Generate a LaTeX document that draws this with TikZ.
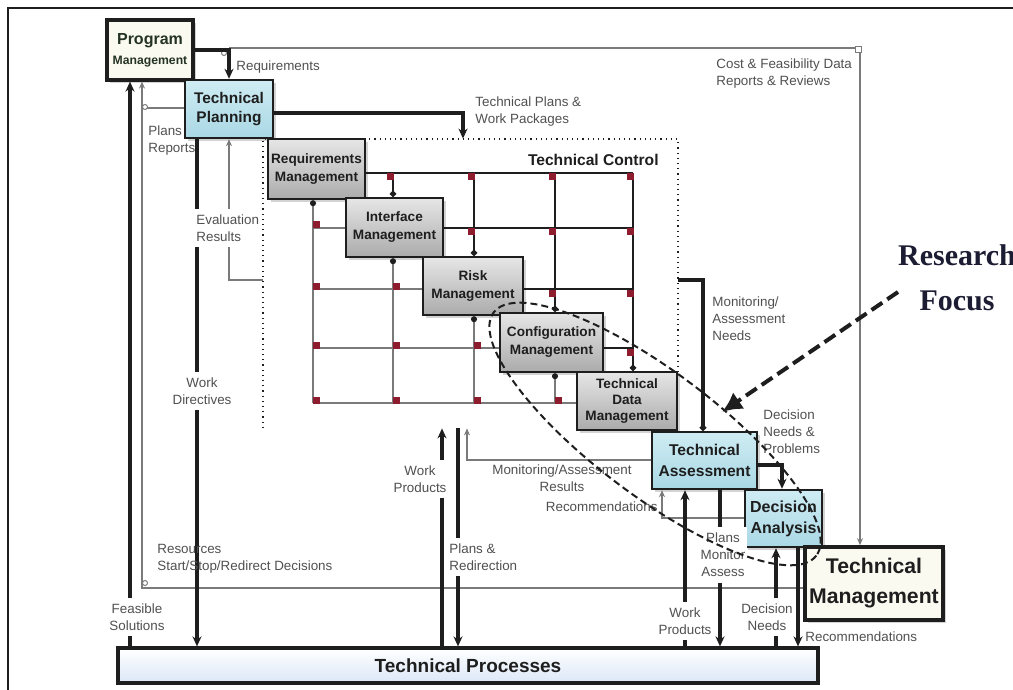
\documentclass[tikz,border=0pt]{standalone}
\usepackage{fontspec}
\setmainfont{Liberation Sans}
\newfontfamily\rfont{Liberation Serif}
\usetikzlibrary{arrows.meta,shadows,calc}

\definecolor{ink}{HTML}{1E1E1E}
\definecolor{lblgray}{HTML}{505050}
\definecolor{thingray}{HTML}{7A7A7A}
\definecolor{gridred}{HTML}{8C1C2E}
\definecolor{pmfill}{HTML}{FAFAF0}
\definecolor{pmtext}{HTML}{243324}
\definecolor{bluetop}{HTML}{CFECF3}
\definecolor{bluebot}{HTML}{A9D8E5}
\definecolor{greytop}{HTML}{E6E6E6}
\definecolor{greybot}{HTML}{ABABAB}
\definecolor{procbot}{HTML}{DCE7F7}
\definecolor{navy}{HTML}{1C1C33}

\begin{document}
\begin{tikzpicture}[x=0.5pt,y=-0.5pt,
  thk/.style={draw=ink,line width=1.6pt},
  thkarrow/.style={thk,-{Stealth[length=5pt,width=4.5pt]}},
  thn/.style={draw=thingray,line width=0.6pt},
  thnarrow/.style={thn,-{Stealth[length=3.5pt,width=3pt]}},
  gridthk/.style={draw=ink,line width=1.2pt},
  gridthn/.style={draw=thingray,line width=0.6pt},
  dotend/.style={-{Circle[length=3pt,color=ink]}},
  dotstart/.style={{Circle[length=3pt,color=ink]}-},
  lbl/.style={font=\fontsize{6.7}{8.5}\selectfont,text=lblgray,inner sep=1pt,align=left},
  gaplbl/.style={lbl,fill=white,align=center,inner xsep=1pt,inner ysep=3pt},
  shade/.style={drop shadow={opacity=0.35,shadow xshift=1.5pt,shadow yshift=-1.5pt}},
  gbox/.style={draw=ink,line width=1.2pt,top color=greytop,bottom color=greybot,shade,
     font=\bfseries\fontsize{6.8}{9}\selectfont,text=ink,align=center,inner sep=0pt},
  bbox/.style={gbox,top color=bluetop,bottom color=bluebot},
  junction/.style={draw=thingray,line width=0.5pt,fill=white}
]
\useasboundingbox (0,0) rectangle (1013,690);

% outer frame (left and top edges)
\draw[ink,line width=0.8pt] (8,700) -- (8,8) -- (1020,8);

% column and row positions of the control grid
\coordinate (c1) at (313,0);
\coordinate (c2) at (393,0);
\coordinate (c3) at (474,0);
\coordinate (c4) at (555,0);
\coordinate (c5) at (633,0);
\coordinate (r1) at (0,173);
\coordinate (r2) at (0,228);
\coordinate (r3) at (0,289);
\coordinate (r4) at (0,348);
\coordinate (r5) at (0,403);

% x positions of vertical connectors
\foreach \n in {130,142,197,229,442,458,463,467,662,685,703,720,776,782,798,860}
  \coordinate (x\n) at (\n,0);
% y positions of horizontal connectors
\coordinate (ycf) at (0,48);
\coordinate (ypr) at (0,108);
\coordinate (ytpw) at (0,113);
\coordinate (yev) at (0,280);
\coordinate (ymn) at (0,280);
\coordinate (ymar) at (0,460);
\coordinate (ydn) at (0,465);
\coordinate (yrec) at (0,518);
\coordinate (yres) at (0,588);

% technical control region
\node[minimum width=207.5pt,minimum height=144.5pt,inner sep=0pt] (tc) at (470.5,283.5) {};
\draw[ink,line width=0.6pt,dotted] (263,428) -- (263,139) -- (678,139) -- (678,372);
\node[font=\bfseries\fontsize{7.8}{9}\selectfont,text=ink,anchor=east,inner sep=0pt] (tctitle) at (659,160) {Technical Control};

% boxes
\node[draw=ink,line width=1.6pt,fill=pmfill,shade,minimum width=43pt,minimum height=30pt,
      align=center,inner sep=0pt,text=pmtext,font=\bfseries\fontsize{6.1}{10}\selectfont] (pm) at (150,50)
      {{\fontsize{8}{10}\selectfont Program}\\Management};
\node[bbox,minimum width=44pt,minimum height=29pt,font=\bfseries\fontsize{7.7}{9.5}\selectfont] (tp) at (229,109) {Technical\\Planning};
\node[gbox,minimum width=48.5pt,minimum height=30pt] (rm) at (316.5,169) {Requirements\\Management};
\node[gbox,minimum width=48.5pt,minimum height=29.5pt] (im) at (394.5,227.5) {Interface\\Management};
\node[gbox,minimum width=50pt,minimum height=29pt] (rk) at (473,286) {Risk\\Management};
\node[gbox,minimum width=51.5pt,minimum height=29.5pt] (cm) at (551.5,342.5) {Configuration\\Management};
\node[gbox,minimum width=50pt,minimum height=29pt,font=\bfseries\fontsize{6.8}{7.8}\selectfont] (tdm) at (627,401) {Technical\\Data\\Management};
\node[bbox,minimum width=52.5pt,minimum height=28.5pt,font=\bfseries\fontsize{7.8}{10.5}\selectfont] (ta) at (704.5,460.5) {Technical\\Assessment};
\node[bbox,minimum width=38.5pt,minimum height=28.5pt,font=\bfseries\fontsize{8}{10.5}\selectfont] (da) at (783.5,518.5) {Decision\\Analysis};
\node[draw=ink,line width=1.8pt,fill=pmfill,shade,minimum width=69pt,minimum height=36.5pt,
      align=center,inner sep=0pt,text=ink,font=\bfseries\fontsize{10.6}{15}\selectfont] (tm) at (874,583.5) {Technical\\Management};
\node[draw=ink,line width=1.6pt,top color=white,bottom color=procbot,minimum width=350pt,minimum height=17.5pt,
      inner sep=0pt,text=ink,font=\bfseries\fontsize{9.5}{11}\selectfont] (tpr) at (468,665.5) {Technical Processes};

% control grid: upper part
\draw[gridthk] (rm.east |- r1) -- (c5 |- r1);
\draw[gridthk] (im.east |- r2) -- (c5 |- r2);
\draw[gridthk] (rk.east |- r3) -- (c5 |- r3);
\draw[gridthk] (cm.east |- r4) -- (c5 |- r4);
\draw[gridthk,dotend] (c2 |- r1) -- (c2 |- im.north);
\draw[gridthk,dotend] (c3 |- r1) -- (c3 |- rk.north);
\draw[gridthk,dotend] (c4 |- r1) -- (c4 |- cm.north);
\draw[gridthk,dotend] (c5 |- r1) -- (c5 |- tdm.north);
% control grid: lower part
\draw[gridthn,dotstart] (c1 |- rm.south) -- (c1 |- r5);
\draw[gridthn,dotstart] (c2 |- im.south) -- (c2 |- r5);
\draw[gridthn,dotstart] (c3 |- rk.south) -- (c3 |- r5);
\draw[gridthn,dotstart] (c4 |- cm.south) -- (c4 |- r5);
\draw[gridthn] (c1 |- r2) -- (im.west |- r2);
\draw[gridthn] (c1 |- r3) -- (rk.west |- r3);
\draw[gridthn] (c1 |- r4) -- (cm.west |- r4);
\draw[gridthn] (c1 |- r5) -- (tdm.west |- r5);
% intersection markers
\foreach \cx [count=\ci] in {313,393,474,555,633}{
  \foreach \ry [count=\rj] in {173,228,289,348,403}{
    \ifnum\ci>\rj \fill[gridred] (\cx-3,\ry+4) +(-3.5,-3.5) rectangle +(3.5,3.5); \fi
    \ifnum\ci<\rj \fill[gridred] (\cx+3,\ry-3) +(-3.5,-3.5) rectangle +(3.5,3.5); \fi
  }
}

% thin information flows
\coordinate (cf0) at (x229 |- ycf);
\draw[thnarrow] (cf0) -| (x860 |- tm.north);
\draw[thnarrow] (tm.west |- yres) -| (x142 |- pm.south);
\draw[thn] (tp.west |- ypr) -- (x142 |- ypr);
\draw[thnarrow] (tc.west |- yev) -| (x229 |- tp.south);
\draw[thnarrow] (ta.west |- ymar) -| (x467 |- tc.south);
\draw[thnarrow] (da.west |- yrec) -| (x662 |- ta.south);
\draw[junction] (224,53) circle [radius=2.5];
\draw[junction] (145,107) circle [radius=2.5];
\draw[junction] (145,583) circle [radius=2.5];
\draw[junction] (855,47) rectangle (861,53);

% thick flows
\draw[thkarrow] (pm.east) -| (tp.north);
\draw[thkarrow] (x130 |- tpr.north) -- (x130 |- pm.south);
\draw[thkarrow] (x197 |- tp.south) -- (x197 |- tpr.north);
\draw[thkarrow] (tp.east |- ytpw) -| (x463 |- tc.north);
\draw[thk,dotend] (tc.east |- ymn) -| (x703 |- ta.north);
\draw[thkarrow] (ta.east |- ydn) -| (x782 |- da.north);
\draw[thkarrow] (x442 |- tpr.north) -- (x442 |- tc.south);
\draw[thkarrow] (x458 |- tc.south) -- (x458 |- tpr.north);
\draw[thkarrow] (x685 |- tpr.north) -- (x685 |- ta.south);
\draw[thkarrow] (x720 |- ta.south) -- (x720 |- tpr.north);
\draw[thkarrow] (x776 |- tpr.north) -- (x776 |- da.south);
\draw[thkarrow] (x798 |- da.south) -- (x798 |- tpr.north);

% labels that interrupt their lines
\node[gaplbl] (lfs) at (137,617) {Feasible\\Solutions};
\node[gaplbl] (lwd) at (202,391) {Work\\Directives};
\node[gaplbl,align=left,anchor=west] (lev) at (194,228) {Evaluation\\Results};
\node[gaplbl] (lwp1) at (420,479) {Work\\Products};
\node[gaplbl,align=left,anchor=west] (lpr) at (447,557) {Plans \&\\Redirection};
\node[gaplbl] (lwp2) at (685,621) {Work\\Products};
\node[gaplbl] (lpma) at (723,555) {Plans\\Monitor\\Assess};
\node[gaplbl] (ldn) at (767,617) {Decision\\Needs};

% other labels
\node[lbl,anchor=west] (lreq) at (234,67) {Requirements};
\node[lbl,anchor=west] (lprp) at (146,141) {Plans\\Reports};
\node[lbl,anchor=west] (ltpw) at (473,112) {Technical Plans \&\\Work Packages};
\node[lbl,anchor=west] (lcf) at (714,74) {Cost \& Feasibility Data\\Reports \& Reviews};
\node[lbl,anchor=west] (lman) at (710,319) {Monitoring/\\Assessment\\Needs};
\node[lbl,anchor=west] (ldnp) at (761,432) {Decision\\Needs \&\\Problems};
\node[lbl,align=center] (lmar) at (562,478) {Monitoring/Assessment\\Results};
\node[lbl,anchor=east] (lrec1) at (660,507) {Recommendations};
\node[lbl,anchor=west] (lrec2) at (803,637) {Recommendations};
\node[lbl,anchor=west] (lres) at (155,559) {Resources\\Start/Stop/Redirect Decisions};

% highlighted area and its callout
\draw[ink,line width=1pt,dash pattern=on 3.5pt off 2pt,rotate around={-37:(655,434)}]
  (655,434) ellipse [x radius=202,y radius=62];
\node[font=\rfont\bfseries\fontsize{15}{22.5}\selectfont,text=navy,align=center,inner sep=0pt] (rf) at (957,278) {Research\\Focus};
\coordinate (rfa) at (898,292);
\coordinate (rfb) at (722,412);
\draw[ink,line width=2pt,dash pattern=on 6.5pt off 3pt,-{Latex[length=10pt,width=10pt]}] (rfa) -- (rfb);
\end{tikzpicture}
\end{document}
